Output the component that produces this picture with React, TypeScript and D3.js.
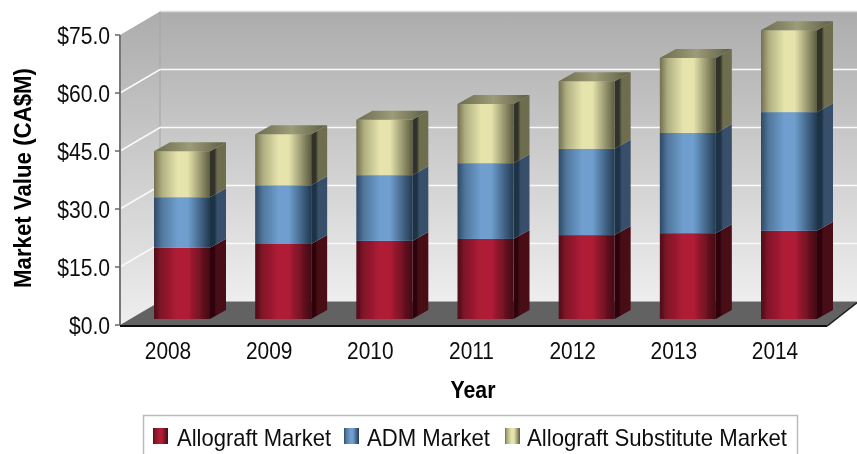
import React from "react";
import * as d3 from "d3";

const years = ["2008", "2009", "2010", "2011", "2012", "2013", "2014"];
const allograft = [18.4, 19.4, 20.2, 20.7, 21.7, 22.2, 22.8];
const adm = [13.1, 15.2, 17.0, 19.6, 22.3, 25.9, 30.7];
const substitute = [11.9, 13.2, 14.3, 15.3, 17.5, 19.4, 21.2];
const ticks = [0, 15, 30, 45, 60, 75];
const seriesNames = ["Allograft Market", "ADM Market", "Allograft Substitute Market"];

const W = 857, H = 454;
const frontX = 120, frontY0 = 325, frontY1 = 35;
const wallDx = 40, wallDy = -23.5;
const barBase = 319, barDx = 16, barDy = -9;

const y = d3.scaleLinear().domain([0, 75]).range([frontY0, frontY1]);
const yBar = d3.scaleLinear().domain([0, 75]).range([barBase, barBase - (frontY0 - frontY1)]);
const x = d3.scaleBand().domain(years).range([154, 817]).paddingInner(0.4465).paddingOuter(0);

const pal = [
  { id: "r", dark: "#3f0a14", mid: "#b01c36", side: "#4a0c18", sideD: "#30060e" },
  { id: "b", dark: "#233a52", mid: "#6f9fcf", side: "#37506c", sideD: "#1e3044" },
  { id: "y", dark: "#5c5c40", mid: "#e6e4ac", side: "#6e6e50", sideD: "#33332a" },
];
const font = "'Liberation Sans', Arial, sans-serif";

const stack = d3.stack<number>()
  .keys(["0", "1", "2"])
  .value((i, k) => [allograft, adm, substitute][+k][i as number])(years.map((_, i) => i));

const legendItems = [
  { swatch: 153, text: 177, len: 154 },
  { swatch: 344, text: 367, len: 123 },
  { swatch: 505, text: 527, len: 260 },
];

export default function App() {
  const bw = x.bandwidth();
  return (
    <svg width={W} height={H} style={{ position: "absolute", left: 0, top: 0, background: "#fff" }} fontFamily={font}>
      <defs>
        <linearGradient id="wall" x1="0" y1="0" x2="0" y2="1">
          <stop offset="0" stopColor="#acacac" />
          <stop offset="1" stopColor="#eeeeee" />
        </linearGradient>
        {pal.map((p) => (
          <linearGradient key={p.id} id={p.id} x1="0" x2="1" y1="0" y2="0">
            <stop offset="0" stopColor={d3.interpolateRgb(p.dark, p.mid)(0.15)} />
            <stop offset="0.14" stopColor={d3.interpolateRgb(p.dark, p.mid)(0.6)} />
            <stop offset="0.42" stopColor={p.mid} />
            <stop offset="0.6" stopColor={p.mid} />
            <stop offset="0.92" stopColor={d3.interpolateRgb(p.dark, p.mid)(0.2)} />
            <stop offset="1" stopColor={p.dark} />
          </linearGradient>
        ))}
        {pal.map((p) => (
          <linearGradient key={p.id} id={p.id + "s"} x1="0" x2="1" y1="0" y2="0">
            <stop offset="0" stopColor={p.sideD} />
            <stop offset="0.28" stopColor={p.sideD} />
            <stop offset="0.45" stopColor={p.side} />
            <stop offset="1" stopColor={p.side} />
          </linearGradient>
        ))}
        <linearGradient id="ytop" x1="0" x2="1" y1="0" y2="0">
          <stop offset="0" stopColor="#6b6b50" />
          <stop offset="0.5" stopColor="#9c9c78" />
          <stop offset="1" stopColor="#5c5c44" />
        </linearGradient>
        <filter id="soft" x="-5%" y="-5%" width="110%" height="110%">
          <feGaussianBlur stdDeviation="0.45" />
        </filter>
      </defs>

      <g filter="url(#soft)">
        <polygon
          points={`${frontX},${frontY1} ${frontX + wallDx},${frontY1 + wallDy} ${frontX + wallDx},${frontY0 + wallDy} ${frontX},${frontY0}`}
          fill="url(#wall)"
        />
        <rect x={frontX + wallDx} y={frontY1 + wallDy} width={W - frontX - wallDx} height={frontY0 - frontY1} fill="url(#wall)" />
        <line x1={frontX + wallDx} x2={W} y1={frontY1 + wallDy} y2={frontY1 + wallDy} stroke="#dcdcdc" strokeWidth={1.5} />
        <line x1={frontX + wallDx} x2={frontX + wallDx} y1={frontY1 + wallDy} y2={frontY0 + wallDy} stroke="#a4a4a4" />

        {ticks.slice(1, -1).map((t) => (
          <polyline
            key={t}
            points={`${frontX},${y(t)} ${frontX + wallDx},${y(t) + wallDy} ${W},${y(t) + wallDy}`}
            fill="none"
            stroke="#fafafa"
            strokeWidth={1.6}
          />
        ))}

        <polygon
          points={`${frontX},${frontY0} ${frontX + wallDx},${frontY0 + wallDy} ${W},${frontY0 + wallDy} ${W - 30},${frontY0}`}
          fill="#626262"
        />

        <line x1={frontX} x2={frontX} y1={frontY1} y2={frontY0} stroke="#777" strokeWidth={2} />
        {ticks.map((t) => (
          <line key={t} x1={frontX - 5} x2={frontX} y1={y(t)} y2={y(t)} stroke="#666" strokeWidth={1.5} />
        ))}
        <line x1={frontX} x2={W - 30} y1={frontY0 + 1} y2={frontY0 + 1} stroke="#111" strokeWidth={2} />
        <line x1={W - 30} x2={W} y1={frontY0 + 1} y2={frontY0 + wallDy + 1} stroke="#222" strokeWidth={1.6} />

        {years.map((yr, i) => {
          const bx = x(yr)!;
          const top = yBar(stack[2][i][1]);
          return (
            <g key={yr}>
              {stack.map((s, k) => {
                const y0 = yBar(s[i][0]);
                const y1 = yBar(s[i][1]);
                const p = pal[k];
                return (
                  <g key={k}>
                    <polygon
                      points={`${bx + bw},${y0} ${bx + bw + barDx},${y0 + barDy} ${bx + bw + barDx},${y1 + barDy} ${bx + bw},${y1}`}
                      fill={`url(#${p.id}s)`}
                    />
                    <rect x={bx} y={y1} width={bw} height={y0 - y1} fill={`url(#${p.id})`} />
                  </g>
                );
              })}
              <polygon
                points={`${bx},${top} ${bx + barDx},${top + barDy} ${bx + bw + barDx},${top + barDy} ${bx + bw},${top}`}
                fill="url(#ytop)"
              />
            </g>
          );
        })}
      </g>

      <g filter="url(#soft)">
        {ticks.map((t) => (
          <text key={t} transform={`translate(110,${y(t) + 9}) scale(0.88,1)`} textAnchor="end" fontSize={24} fill="#111">
            {d3.format("$.1f")(t)}
          </text>
        ))}
        {years.map((yr) => (
          <text key={yr} transform={`translate(${x(yr)! + bw / 2 - 14},359) scale(0.87,1)`} textAnchor="middle" fontSize={24} fill="#111">
            {yr}
          </text>
        ))}
        <text x={473} y={398} textAnchor="middle" fontSize={24} fontWeight="bold" textLength={45} lengthAdjust="spacingAndGlyphs" fill="#000">
          Year
        </text>
        <text
          transform="translate(31,178) rotate(-90)"
          textAnchor="middle"
          fontSize={23}
          fontWeight="bold"
          textLength={220}
          lengthAdjust="spacingAndGlyphs"
          fill="#000"
        >
          Market Value (CA$M)
        </text>

        <rect x={143.5} y={415.5} width={654} height={50} fill="#fff" stroke="#bbb" strokeWidth={1.5} />
        {seriesNames.map((n, k) => (
          <g key={n}>
            <rect x={legendItems[k].swatch} y={428} width={15} height={16} fill={`url(#${pal[k].id})`} />
            <text x={legendItems[k].text} y={446} fontSize={24} textLength={legendItems[k].len} lengthAdjust="spacingAndGlyphs" fill="#111">
              {n}
            </text>
          </g>
        ))}
      </g>
    </svg>
  );
}
